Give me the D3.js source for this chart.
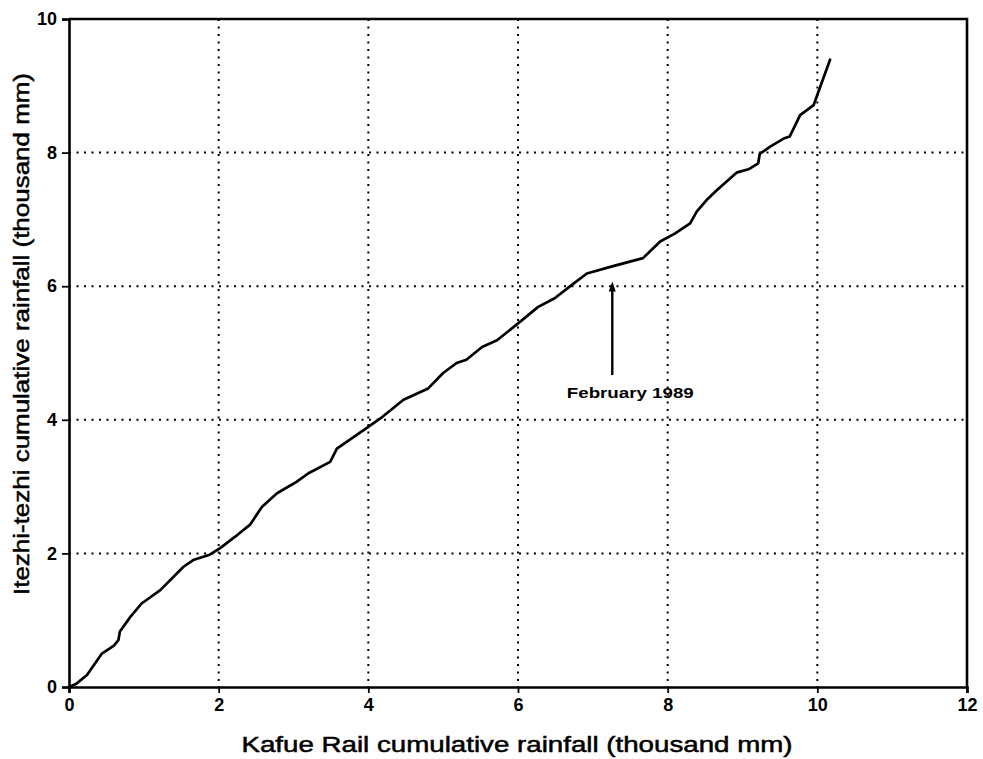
<!DOCTYPE html>
<html>
<head>
<meta charset="utf-8">
<script src="https://cdn.jsdelivr.net/npm/d3@7"></script>
<style>
  body { margin: 0; background: #fff; }
  svg { display: block; }
  text { font-family: "Liberation Sans", Arial, sans-serif; fill: #000; }
</style>
</head>
<body>
<svg id="chart" width="983" height="759"></svg>
<script>
// Cumulative rainfall: Kafue Rail (x) against Itezhi-tezhi (y), thousand mm
const kafueRail = [0, 0.10, 0.24, 0.44, 0.60, 0.66, 0.68, 0.82, 0.97, 1.22, 1.53, 1.66, 1.88, 2.02, 2.22, 2.42, 2.58, 2.78, 3.04, 3.20, 3.49, 3.58, 3.98, 4.16, 4.47, 4.80, 5.00, 5.18, 5.31, 5.52, 5.72, 6.03, 6.27, 6.49, 6.72, 6.92, 7.27, 7.67, 7.90, 8.10, 8.30, 8.39, 8.52, 8.66, 8.92, 9.08, 9.21, 9.23, 9.37, 9.55, 9.63, 9.77, 9.95, 10.04, 10.17];
const itezhiTezhi = [0, 0.05, 0.18, 0.50, 0.62, 0.70, 0.83, 1.05, 1.25, 1.45, 1.80, 1.90, 1.98, 2.08, 2.25, 2.43, 2.70, 2.90, 3.07, 3.20, 3.37, 3.57, 3.88, 4.02, 4.30, 4.47, 4.70, 4.85, 4.90, 5.09, 5.19, 5.47, 5.69, 5.82, 6.02, 6.19, 6.30, 6.42, 6.67, 6.79, 6.94, 7.12, 7.29, 7.44, 7.70, 7.75, 7.84, 7.98, 8.09, 8.21, 8.24, 8.56, 8.71, 8.99, 9.39];
const xTicks = [0, 2, 4, 6, 8, 10, 12];
const yTicks = [0, 2, 4, 6, 8, 10];
const xTitle = "Kafue Rail cumulative rainfall (thousand mm)";
const yTitle = "Itezhi-tezhi cumulative rainfall (thousand mm)";
const note = { x: 7.26, yTip: 6.07, yBase: 4.67, label: "February 1989" };

const svg = d3.select("#chart");
const margin = { top: 19, right: 16, bottom: 72, left: 69 };
const W = 983 - margin.left - margin.right;
const H = 759 - margin.top - margin.bottom;
const g = svg.append("g").attr("transform", `translate(${margin.left},${margin.top})`);

const x = d3.scaleLinear().domain([0, 12]).range([0, W]);
const y = d3.scaleLinear().domain([0, 10]).range([H, 0]);

// dotted grid at interior ticks
g.append("g").selectAll("line").data(xTicks.filter(t => t > 0 && t < 12)).join("line")
  .attr("x1", d => x(d)).attr("x2", d => x(d)).attr("y1", 0).attr("y2", H)
  .attr("stroke", "#000").attr("stroke-width", 2).attr("stroke-dasharray", "2,5.5");
g.append("g").selectAll("line").data(yTicks.filter(t => t > 0 && t < 10)).join("line")
  .attr("x1", 0).attr("x2", W).attr("y1", d => y(d)).attr("y2", d => y(d))
  .attr("stroke", "#000").attr("stroke-width", 2).attr("stroke-dasharray", "2,5.5");

// axes
const xAxis = g.append("g").attr("transform", `translate(0,${H})`)
  .call(d3.axisBottom(x).tickValues(xTicks).tickFormat(d3.format("d")).tickSize(6).tickPadding(5));
const yAxis = g.append("g")
  .call(d3.axisLeft(y).tickValues(yTicks).tickFormat(d3.format("d")).tickSize(7).tickPadding(5));
[xAxis, yAxis].forEach(a => {
  a.attr("font-size", 18);
  a.select(".domain").attr("stroke-width", 2.6);
  a.selectAll(".tick line").attr("stroke-width", 1.8);
  a.selectAll(".tick text").style("font-size", "18px").style("font-weight", "bold")
    .style("font-family", "'Liberation Sans', Arial, sans-serif");
});

// frame top and right
g.append("path").attr("d", `M0,0H${W}V${H}`).attr("fill", "none")
  .attr("stroke", "#000").attr("stroke-width", 2.6);

// double-mass curve
const pts = kafueRail.map((v, i) => [v, itezhiTezhi[i]]);
g.append("path").datum(pts)
  .attr("d", d3.line().x(d => x(d[0])).y(d => y(d[1])).curve(d3.curveLinear))
  .attr("fill", "none").attr("stroke", "#000").attr("stroke-width", 2.7)
  .attr("stroke-linejoin", "round").attr("stroke-linecap", "round");

// annotation arrow
const ax = x(note.x);
g.append("line").attr("x1", ax).attr("x2", ax)
  .attr("y1", y(note.yBase)).attr("y2", y(note.yTip) + 6)
  .attr("stroke", "#000").attr("stroke-width", 2.4);
g.append("path")
  .attr("d", `M${ax},${y(note.yTip)}L${ax - 3.5},${y(note.yTip) + 10}L${ax + 3.5},${y(note.yTip) + 10}Z`)
  .attr("fill", "#000");
g.append("text").attr("x", ax + 18).attr("y", y(note.yBase) + 23)
  .attr("text-anchor", "middle").style("font-size", "14px").style("font-weight", "bold")
  .attr("textLength", 127).attr("lengthAdjust", "spacingAndGlyphs")
  .text(note.label);

// axis titles
svg.append("text").attr("x", 517).attr("y", 752).attr("text-anchor", "middle")
  .style("font-size", "22px").attr("stroke", "#000").attr("stroke-width", 0.5)
  .attr("textLength", 551).attr("lengthAdjust", "spacingAndGlyphs")
  .text(xTitle);
svg.append("text").attr("transform", "translate(29,334) rotate(-90)").attr("text-anchor", "middle")
  .style("font-size", "22px").attr("stroke", "#000").attr("stroke-width", 0.5)
  .attr("textLength", 522).attr("lengthAdjust", "spacingAndGlyphs")
  .text(yTitle);
</script>
</body>
</html>
